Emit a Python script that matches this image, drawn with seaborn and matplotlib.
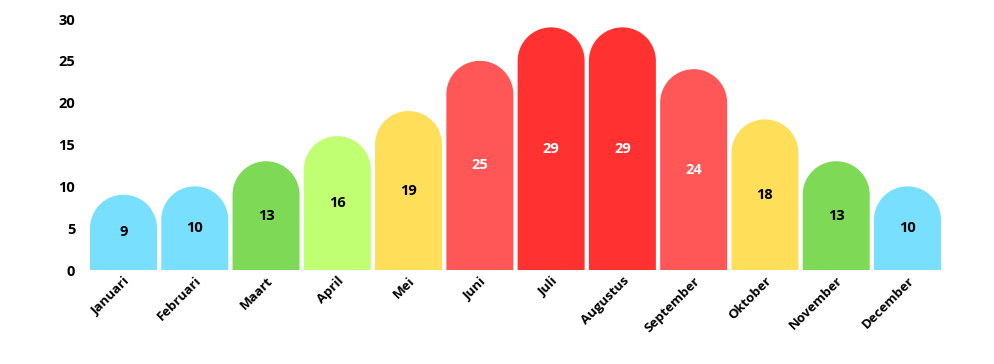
import matplotlib
matplotlib.use("Agg")
import matplotlib.pyplot as plt
import seaborn as sns
import numpy as np
from matplotlib.path import Path
from matplotlib.patches import PathPatch

maanden = ["Januari", "Februari", "Maart", "April", "Mei", "Juni", "Juli",
           "Augustus", "September", "Oktober", "November", "December"]
temperaturen = [9, 10, 13, 16, 19, 25, 29, 29, 24, 18, 13, 10]
kleuren = ["#79DFFF", "#79DFFF", "#7ED957", "#C1FF72", "#FFDE59", "#FF5757",
           "#FF3131", "#FF3131", "#FF5757", "#FFDE59", "#7ED957", "#79DFFF"]
label_kleuren = ["black", "black", "black", "black", "black", "white",
                 "white", "white", "white", "black", "black", "black"]
y_ticks = [0, 5, 10, 15, 20, 25, 30]

sns.set_style("white")
plt.rcParams['font.family'] = ['Open Sans', 'DejaVu Sans']

fig = plt.figure(figsize=(9.94, 3.64), dpi=100)
ax = fig.add_axes([0.0884, 0.2582, 0.8604, 0.6896])

sns.barplot(x=maanden, y=temperaturen, hue=maanden, palette=kleuren,
            legend=False, width=0.94, saturation=1, ax=ax)
ax.set_xlim(-0.5, 11.5)
ax.set_ylim(0, 30)

# afgeronde toppen: halve cirkel in pixels
breedte_px = fig.get_figwidth() * fig.dpi * 0.8604
hoogte_px = fig.get_figheight() * fig.dpi * 0.6896
px_per_x = breedte_px / 12
px_per_y = hoogte_px / 30

for patch, kleur in zip(list(ax.patches), kleuren):
    x0 = patch.get_x()
    w = patch.get_width()
    h = patch.get_height()
    rx = w / 2
    ry = rx * px_per_x / px_per_y
    t = np.linspace(np.pi, 0, 60)
    arc_x = x0 + rx + rx * np.cos(t)
    arc_y = (h - ry) + ry * np.sin(t)
    verts = [(x0, 0), (x0, h - ry)] + list(zip(arc_x, arc_y)) + [(x0 + w, 0), (x0, 0)]
    codes = [Path.MOVETO] + [Path.LINETO] * (len(verts) - 2) + [Path.CLOSEPOLY]
    ax.add_patch(PathPatch(Path(verts, codes), facecolor=kleur, edgecolor="none"))
    patch.set_visible(False)

for i, (v, c) in enumerate(zip(temperaturen, label_kleuren)):
    ax.text(i, v / 2, str(v), ha="center", va="center", color=c,
            fontsize=10.5, fontweight="bold")

ax.set_yticks(y_ticks)
ax.set_yticklabels([str(t) for t in y_ticks], fontsize=10.5, fontweight="bold",
                   color="black")
ax.tick_params(axis="y", length=0, pad=9)
ax.tick_params(axis="x", length=0, pad=3)
plt.setp(ax.get_xticklabels(), rotation=45, ha="right", rotation_mode="anchor",
         fontsize=9.5, fontweight="bold", color="black")
ax.set_xlabel("")
ax.set_ylabel("")
sns.despine(ax=ax, left=True, bottom=True)

fig.savefig("out.png", dpi=100)
